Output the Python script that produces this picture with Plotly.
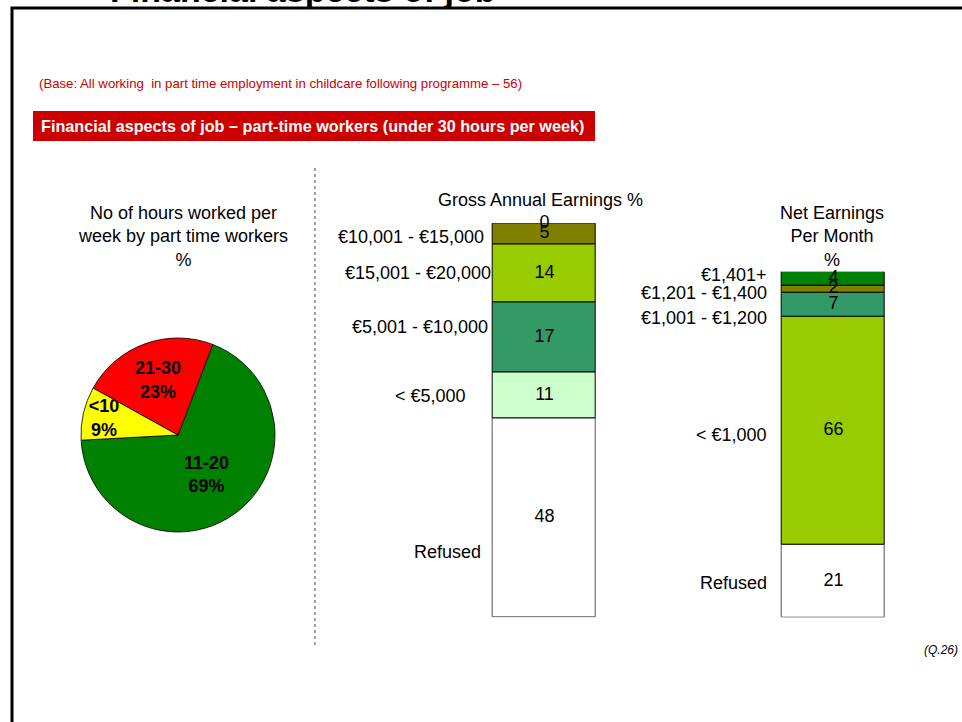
import plotly.graph_objects as go

# ---------------- data ----------------
pie_labels = ["11-20", "<10", "21-30"]
pie_values = [69, 9, 23]
pie_colors = ["#008000", "#FFFF00", "#FF0000"]

gross_cats = ["Refused", "< €5,000", "€5,001 - €10,000", "€15,001 - €20,000", "€10,001 - €15,000", "€20,001+"]
gross_vals = [48, 11, 17, 14, 5, 0]
gross_colors = ["#FFFFFF", "#CCFFCC", "#339966", "#99CC00", "#808000", "#808000"]

net_cats = ["Refused", "< €1,000", "€1,001 - €1,200", "€1,201 - €1,400", "€1,401+"]
net_vals = [21, 66, 7, 2, 4]
net_colors = ["#FFFFFF", "#99CC00", "#339966", "#808000", "#008000"]

# label styling (positions in px / shifts)
gross_label_right = [483, 468, 490, 493, 486, None]
gross_label_shift = [-34, 0, 10, 0, -3, 0]
net_label_right = [769, 769, 769, 769, 769]
net_label_shift = [-2, -4, -13, -4, 4]

W, H = 962, 722
FONT = "Liberation Sans, Arial, sans-serif"
PAD = 0.6  # half-range of category axes (bar width = 1)


def px(x):
    return x / W


def py(y):
    return 1 - y / H


fig = go.Figure()

# ---------------- pie ----------------
fig.add_trace(go.Pie(
    labels=pie_labels, values=pie_values, sort=False,
    direction="clockwise", rotation=21,
    marker=dict(colors=pie_colors, line=dict(color="#000000", width=0.8)),
    texttemplate="%{label}<br>%{value}%", textposition="inside",
    insidetextorientation="horizontal",
    textfont=dict(family=FONT, size=18, color="#000000", weight="bold"),
    domain=dict(x=[px(81), px(275)], y=[py(532), py(338)]),
    showlegend=False, hoverinfo="skip",
))


def add_stack(vals, cats, colors, xa, ya):
    cum = 0
    centers = []
    for v, c, col in zip(vals, cats, colors):
        fig.add_trace(go.Bar(
            x=[0], y=[v], base=[cum], width=1, name=c,
            marker=dict(color=col,
                        line=dict(color="#555555" if col == "#FFFFFF" else "#000000", width=1)),
            xaxis=xa, yaxis=ya, showlegend=False, hoverinfo="skip", cliponaxis=False,
        ))
        centers.append(cum + v / 2)
        cum += v
    fig.add_trace(go.Scatter(
        x=[0] * len(vals), y=centers, mode="text", text=[str(v) for v in vals],
        textfont=dict(family=FONT, size=18, color="#000000"),
        xaxis=xa, yaxis=ya, showlegend=False, hoverinfo="skip", cliponaxis=False,
    ))
    return centers, cum


g_centers, g_total = add_stack(gross_vals, gross_cats, gross_colors, "x", "y")
n_centers, n_total = add_stack(net_vals, net_cats, net_colors, "x2", "y2")

annotations = []
for c, yc, r, s in zip(gross_cats, g_centers, gross_label_right, gross_label_shift):
    if r is None:
        continue
    annotations.append(dict(text=c, xref="paper", yref="y", x=px(r), y=yc, yshift=s,
                            xanchor="right", yanchor="middle", showarrow=False,
                            font=dict(family=FONT, size=18, color="#000000")))
for c, yc, r, s in zip(net_cats, n_centers, net_label_right, net_label_shift):
    annotations.append(dict(text=c, xref="paper", yref="y2", x=px(r), y=yc, yshift=s,
                            xanchor="right", yanchor="middle", showarrow=False,
                            font=dict(family=FONT, size=18, color="#000000")))

# titles / texts
annotations += [
    dict(text="Financial aspects of job", x=px(108), y=py(10.5), xref="paper", yref="paper",
         xanchor="left", yanchor="bottom", showarrow=False,
         font=dict(family=FONT, size=34, color="#000000", weight="bold")),
    dict(text="(Base: All working  in part time employment in childcare following programme – 56)",
         x=px(37), y=py(83), xref="paper", yref="paper", xanchor="left", yanchor="middle",
         showarrow=False, font=dict(family=FONT, size=13.2, color="#CC0000")),
    dict(text="Financial aspects of job – part-time workers (under 30 hours per week)",
         x=px(39), y=py(126), xref="paper", yref="paper", xanchor="left", yanchor="middle",
         showarrow=False, font=dict(family=FONT, size=16.2, color="#FFFFFF", weight="bold")),
    dict(text="No of hours worked per<br>week by part time workers<br>%",
         x=px(183), y=py(236), xref="paper", yref="paper", xanchor="center", yanchor="middle",
         showarrow=False, font=dict(family=FONT, size=18, color="#000000")),
    dict(text="Gross Annual Earnings %",
         x=px(540), y=py(200), xref="paper", yref="paper", xanchor="center", yanchor="middle",
         showarrow=False, font=dict(family=FONT, size=18, color="#000000")),
    dict(text="Net Earnings<br>Per Month<br>%",
         x=px(832), y=py(236), xref="paper", yref="paper", xanchor="center", yanchor="middle",
         showarrow=False, font=dict(family=FONT, size=18, color="#000000")),
    dict(text="<i>(Q.26)</i>",
         x=px(960), y=py(650), xref="paper", yref="paper", xanchor="right", yanchor="middle",
         showarrow=False, font=dict(family=FONT, size=12, color="#000000")),
]

shapes = [
    dict(type="rect", xref="paper", yref="paper", x0=px(12), x1=px(1010), y0=py(760), y1=py(8),
         line=dict(color="#000000", width=3), fillcolor="rgba(0,0,0,0)", layer="below"),
    dict(type="rect", xref="paper", yref="paper", x0=px(33), x1=px(595), y0=py(141), y1=py(111),
         line=dict(width=0), fillcolor="#CC0000", layer="below"),
    dict(type="line", xref="paper", yref="paper", x0=px(315), x1=px(315), y0=py(168), y1=py(648),
         line=dict(color="#444444", width=1, dash="dot")),
]

bw1 = 596 - 493
bw2 = 885 - 782
ext1 = (PAD - 0.5) * bw1
ext2 = (PAD - 0.5) * bw2

fig.update_layout(
    width=W, height=H, margin=dict(l=0, r=0, t=0, b=0),
    paper_bgcolor="#FFFFFF", plot_bgcolor="#FFFFFF",
    barmode="overlay", bargap=0,
    uniformtext=dict(minsize=18, mode="show"),
    xaxis=dict(domain=[px(493 - ext1), px(596 + ext1)], range=[-PAD, PAD], visible=False, fixedrange=True),
    yaxis=dict(domain=[py(617.5), py(223.3)], range=[0, g_total], visible=False, fixedrange=True),
    xaxis2=dict(domain=[px(782 - ext2), px(885 + ext2)], range=[-PAD, PAD], visible=False, anchor="y2", fixedrange=True),
    yaxis2=dict(domain=[py(617.5), py(271.7)], range=[0, n_total], visible=False, anchor="x2", fixedrange=True),
    annotations=annotations, shapes=shapes,
    font=dict(family=FONT),
)

fig.write_html(
    "out.html",
    config={"displayModeBar": False},
    post_script="document.body.style.margin='0';document.body.style.overflow='hidden';",
)
